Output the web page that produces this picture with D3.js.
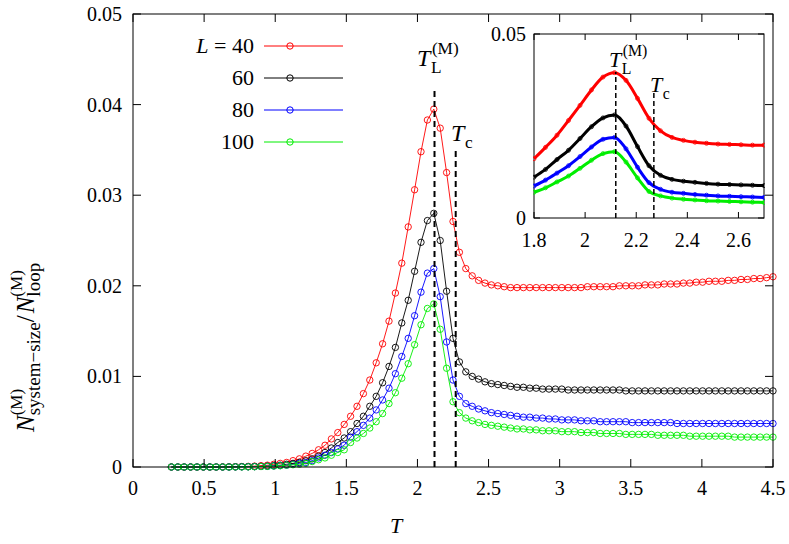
<!DOCTYPE html>
<html><head><meta charset="utf-8">
<script src="https://cdn.jsdelivr.net/npm/d3@7"></script>
<style>body{margin:0;background:#fff}text{font-family:"Liberation Serif","DejaVu Serif",serif}</style>
</head><body><svg id="c" width="789" height="544"></svg>
<script>
// temperature grid (T = 0.27 + 0.045 i, i = 0..94)
const T0 = 0.27, dT = 0.045;
const L40 = [0,0,0,0,0,0,0,0,0.00001,0.00002,
 0.00003,0.00005,0.00007,0.0001,0.00015,0.0002,0.0003,0.0004,0.0005,0.0007,
 0.0009,0.0012,0.0015,0.0019,0.0024,0.0031,0.0038,0.0047,0.0056,0.0067,
 0.0081,0.0096,0.0115,0.0136,0.0161,0.0192,0.0225,0.0265,0.0306,0.0348,
 0.0383,0.0395,0.0374,0.0325,0.0271,0.0237,0.0219,0.0211,0.0206,0.0203,
 0.0201,0.0200,0.0199,0.0198,0.0198,0.0198,0.0198,0.0198,0.0198,0.0198,
 0.0198,0.0198,0.0198,0.0198,0.0198,0.0199,0.0199,0.0199,0.0199,0.0199,
 0.0200,0.0200,0.0200,0.0200,0.0201,0.0201,0.0201,0.0202,0.0202,0.0202,
 0.0203,0.0203,0.0204,0.0204,0.0205,0.0205,0.0205,0.0206,0.0206,0.0207,
 0.0207,0.0208,0.0208,0.0209,0.0210];
const L60 = [0,0,0,0,0,0,0,0,0,0.00001,
 0.00002,0.00003,0.00003,0.00005,0.00007,0.0001,0.00015,0.0002,0.0003,0.0004,
 0.0005,0.0007,0.0009,0.0012,0.0016,0.0021,0.0027,0.0032,0.0039,0.0048,
 0.0056,0.0067,0.0078,0.0093,0.0111,0.0132,0.0159,0.0184,0.0216,0.0248,
 0.0272,0.0280,0.0250,0.0194,0.0142,0.0116,0.0105,0.0100,0.0097,0.0094,
 0.0092,0.0091,0.0090,0.0089,0.0088,0.0088,0.0087,0.0087,0.0086,0.0086,
 0.0086,0.0086,0.0085,0.0085,0.0085,0.0085,0.0085,0.0085,0.0085,0.0085,
 0.0085,0.0084,0.0084,0.0084,0.0084,0.0084,0.0084,0.0084,0.0084,0.0084,
 0.0084,0.0084,0.0084,0.0084,0.0084,0.0084,0.0084,0.0084,0.0084,0.0084,
 0.0084,0.0084,0.0084,0.0084,0.0084];
const L80 = [0,0,0,0,0,0,0,0,0,0,
 0.00001,0.00002,0.00003,0.00004,0.00006,0.00008,0.00012,0.00016,0.0002,0.0003,
 0.0004,0.0005,0.0007,0.0010,0.0013,0.0016,0.0020,0.0024,0.0033,0.0039,
 0.0046,0.0054,0.0063,0.0074,0.0087,0.0103,0.0122,0.0142,0.0167,0.0193,
 0.0214,0.0219,0.0188,0.0138,0.0096,0.0078,0.0070,0.0067,0.0064,0.0062,
 0.0060,0.0059,0.0058,0.0057,0.0056,0.0055,0.0055,0.0054,0.0054,0.0053,
 0.0053,0.0052,0.0052,0.0052,0.0051,0.0051,0.0051,0.0050,0.0050,0.0050,
 0.0050,0.0050,0.0049,0.0049,0.0049,0.0049,0.0049,0.0049,0.0049,0.0048,
 0.0048,0.0048,0.0048,0.0048,0.0048,0.0048,0.0048,0.0048,0.0048,0.0048,
 0.0048,0.0048,0.0048,0.0048,0.0048];
const L100 = [0,0,0,0,0,0,0,0,0,0,
 0.00001,0.00001,0.00002,0.00003,0.00005,0.00007,0.0001,0.00014,0.0002,0.00025,
 0.0003,0.0004,0.0006,0.0008,0.0010,0.0013,0.0016,0.0019,0.0027,0.0032,
 0.0037,0.0043,0.0050,0.0059,0.0070,0.0082,0.0098,0.0114,0.0135,0.0157,
 0.0175,0.0180,0.0152,0.0109,0.0072,0.0060,0.0054,0.0051,0.0049,0.0047,
 0.0046,0.0045,0.0044,0.0043,0.0042,0.0042,0.0041,0.0041,0.0040,0.0040,
 0.0040,0.0039,0.0039,0.0039,0.0038,0.0038,0.0038,0.0037,0.0037,0.0037,
 0.0037,0.0036,0.0036,0.0036,0.0036,0.0036,0.0035,0.0035,0.0035,0.0035,
 0.0035,0.0034,0.0034,0.0034,0.0034,0.0034,0.0034,0.0034,0.0033,0.0033,
 0.0033,0.0033,0.0033,0.0033,0.0033];
const seriesNames = ["40","60","80","100"];
const seriesColors = ["#ff0000","#000000","#0000ff","#00ee00"];
const seriesData = [L40,L60,L80,L100];
const xTicks = [0,0.5,1,1.5,2,2.5,3,3.5,4,4.5];
const yTicks = [0,0.01,0.02,0.03,0.04,0.05];
const insetXTicks = [1.8,2,2.2,2.4,2.6];
const insetYTicks = [0,0.05];
const TL = 2.12, Tc = 2.269;

const svg = d3.select("#c");
const x = d3.scaleLinear([0,4.5],[133,773]);
const y = d3.scaleLinear([0,0.05],[467,14]);
const pts = d => d.map((v,i)=>[T0+dT*i, v]);

const main = svg.append("g");
seriesData.forEach((d,k)=>{
  const p = pts(d);
  main.append("path").attr("d", d3.line().x(a=>x(a[0])).y(a=>y(a[1]))(p))
    .attr("fill","none").attr("stroke",seriesColors[k]).attr("stroke-width",0.9);
  main.selectAll(null).data(p).join("circle").attr("cx",a=>x(a[0])).attr("cy",a=>y(a[1]))
    .attr("r",3.2).attr("fill","none").attr("stroke",seriesColors[k]).attr("stroke-width",0.9);
});
main.append("line").attr("x1",x(TL)).attr("x2",x(TL)).attr("y1",y(0)).attr("y2",88)
  .attr("stroke","#000").attr("stroke-width",2).attr("stroke-dasharray","6,4");
main.append("line").attr("x1",x(Tc)).attr("x2",x(Tc)).attr("y1",y(0)).attr("y2",150)
  .attr("stroke","#000").attr("stroke-width",2).attr("stroke-dasharray","6,4");
function tlLabel(g,xx,yy,fs){
  g.append("text").attr("x",xx).attr("y",yy).attr("font-size",fs).attr("font-style","italic").text("T");
  g.append("text").attr("x",xx+fs*0.58).attr("y",yy+fs*0.3).attr("font-size",fs*0.72).text("L");
  g.append("text").attr("x",xx+fs*0.62).attr("y",yy-fs*0.5).attr("font-size",fs*0.72).text("(M)");
}
function tcLabel(g,xx,yy,fs){
  g.append("text").attr("x",xx).attr("y",yy).attr("font-size",fs).attr("font-style","italic").text("T");
  g.append("text").attr("x",xx+fs*0.58).attr("y",yy+fs*0.3).attr("font-size",fs*0.72).text("c");
}
tlLabel(main,417,66,24);
tcLabel(main,451,141,24);

svg.append("rect").attr("x",133).attr("y",14).attr("width",640).attr("height",453)
  .attr("fill","none").attr("stroke","#000").attr("stroke-width",1);
const ax = svg.append("g").attr("stroke","#000");
xTicks.forEach(t=>{
  ax.append("line").attr("x1",x(t)).attr("x2",x(t)).attr("y1",467).attr("y2",459);
  ax.append("line").attr("x1",x(t)).attr("x2",x(t)).attr("y1",14).attr("y2",22);
  svg.append("text").attr("x",x(t)).attr("y",495).attr("text-anchor","middle").attr("font-size",20).text(t);
});
yTicks.forEach(t=>{
  ax.append("line").attr("x1",133).attr("x2",141).attr("y1",y(t)).attr("y2",y(t));
  ax.append("line").attr("x1",773).attr("x2",765).attr("y1",y(t)).attr("y2",y(t));
  svg.append("text").attr("x",122).attr("y",y(t)+7).attr("text-anchor","end").attr("font-size",20).text(t);
});
svg.append("text").attr("x",396).attr("y",533).attr("font-size",22).attr("font-style","italic").attr("text-anchor","middle").text("T");

// y label laid out sequentially in a rotated group
const yg = svg.append("g").attr("transform","translate(34,432) rotate(-90)");
let cx = 0;
function put(txt, fs, dy, italic, adv){
  const t = yg.append("text").attr("x",cx).attr("y",dy).attr("font-size",fs).text(txt);
  if(italic) t.attr("font-style","italic");
  const w = t.node().getComputedTextLength();
  if(adv) cx += w;
  return w;
}
put("N",25,0,true,true); let s=cx;
put("(M)",17,-12,false,false); cx=s;
put("system−size",19,6,false,true);
put("/",25,0,false,true); cx+=2;
put("N",25,0,true,true); s=cx;
put("(M)",17,-12,false,false); cx=s;
put("loop",19,6,false,true);

seriesNames.forEach((n,k)=>{
  const yy = 46 + k*32;
  const t = svg.append("text").attr("x",254).attr("y",yy+7).attr("text-anchor","end").attr("font-size",22);
  if(k===0){ t.append("tspan").attr("font-style","italic").text("L"); t.append("tspan").text(" = 40"); }
  else t.text(n);
  svg.append("line").attr("x1",264).attr("x2",343).attr("y1",yy).attr("y2",yy).attr("stroke",seriesColors[k]);
  svg.append("circle").attr("cx",290).attr("cy",yy).attr("r",3.2).attr("fill","none").attr("stroke",seriesColors[k]);
});

const ix = d3.scaleLinear([1.8,2.7],[534,764]);
const iy = d3.scaleLinear([0,0.05],[218,34]);
svg.append("rect").attr("x",534).attr("y",34).attr("width",230).attr("height",184).attr("fill","#fff").attr("stroke","#000");
svg.append("clipPath").attr("id","ic").append("rect").attr("x",533).attr("y",33).attr("width",232).attr("height",186);
const ig = svg.append("g").attr("clip-path","url(#ic)");
seriesData.forEach((d,k)=>{
  const p = pts(d).filter(a=>a[0]>=1.79 && a[0]<=2.71);
  ig.append("path").attr("d", d3.line().curve(d3.curveMonotoneX).x(a=>ix(a[0])).y(a=>iy(a[1]))(p))
    .attr("fill","none").attr("stroke",seriesColors[k]).attr("stroke-width",3);
  ig.selectAll(null).data(p).join("circle").attr("cx",a=>ix(a[0])).attr("cy",a=>iy(a[1]))
    .attr("r",2).attr("fill","none").attr("stroke",seriesColors[k]).attr("stroke-width",0.8);
});
svg.append("line").attr("x1",ix(TL)).attr("x2",ix(TL)).attr("y1",218).attr("y2",72)
  .attr("stroke","#000").attr("stroke-width",1.5).attr("stroke-dasharray","5,3");
svg.append("line").attr("x1",ix(Tc)).attr("x2",ix(Tc)).attr("y1",218).attr("y2",90)
  .attr("stroke","#000").attr("stroke-width",1.5).attr("stroke-dasharray","5,3");
tlLabel(svg,609,67,22);
tcLabel(svg,650,92,22);
insetXTicks.forEach(t=>{
  svg.append("line").attr("x1",ix(t)).attr("x2",ix(t)).attr("y1",218).attr("y2",212).attr("stroke","#000");
  svg.append("line").attr("x1",ix(t)).attr("x2",ix(t)).attr("y1",34).attr("y2",40).attr("stroke","#000");
  svg.append("text").attr("x",ix(t)).attr("y",247).attr("text-anchor","middle").attr("font-size",20).text(t);
});
insetYTicks.forEach(t=>{
  svg.append("line").attr("x1",534).attr("x2",540).attr("y1",iy(t)).attr("y2",iy(t)).attr("stroke","#000");
  svg.append("line").attr("x1",764).attr("x2",758).attr("y1",iy(t)).attr("y2",iy(t)).attr("stroke","#000");
  svg.append("text").attr("x",526).attr("y",iy(t)+7).attr("text-anchor","end").attr("font-size",20).text(t);
});
</script></body></html>
